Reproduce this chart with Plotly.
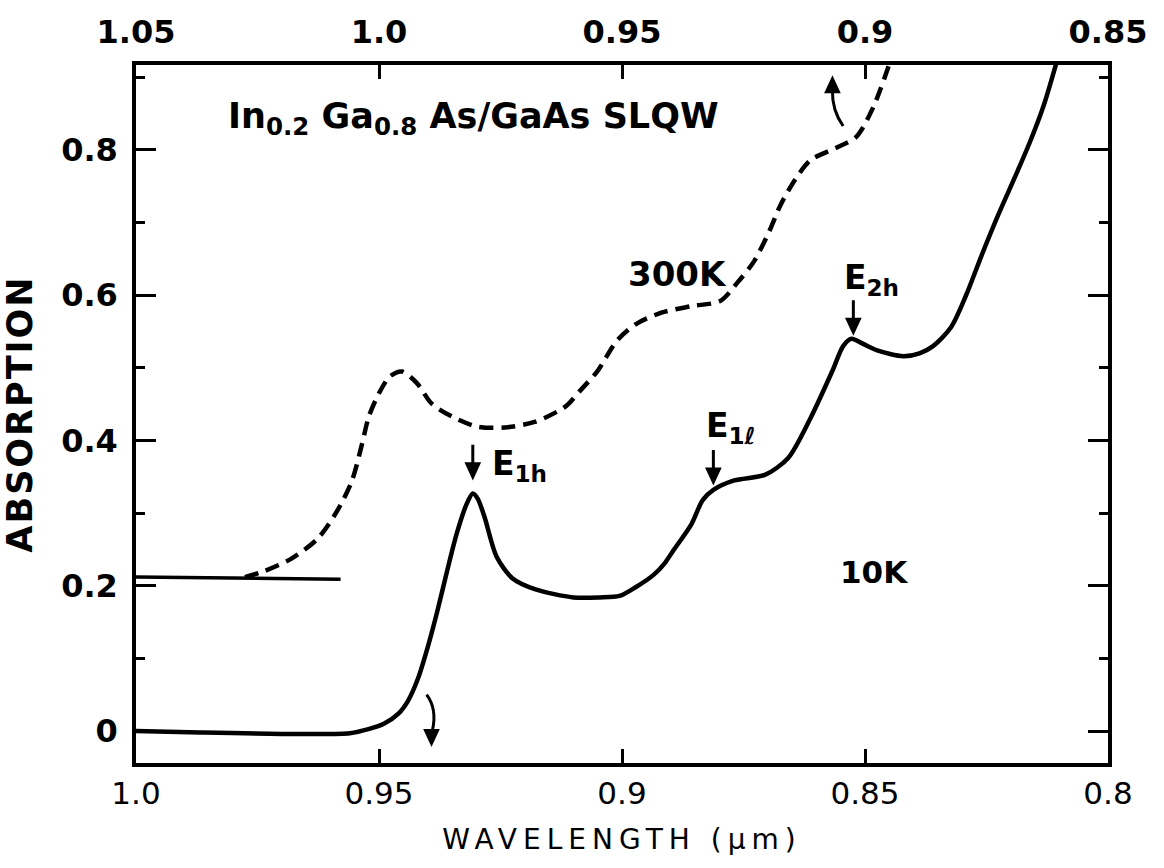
import plotly.graph_objects as go

# ---- 10 K spectrum (bottom wavelength axis, um) ----
wl_10k = [1.000, 0.9868, 0.9663, 0.9560, 0.9520, 0.9490, 0.9460, 0.9440, 0.9420, 0.9400,
          0.9380, 0.9360, 0.9340, 0.9320, 0.9307, 0.9297, 0.9283, 0.9258, 0.9225, 0.9178,
          0.9100, 0.9046, 0.9005, 0.8972, 0.8935, 0.8911, 0.8896, 0.8857, 0.8834, 0.8812,
          0.8769, 0.8705, 0.8658, 0.8612, 0.8567, 0.8545, 0.8528, 0.8504, 0.8475, 0.8421,
          0.8388, 0.8360, 0.8323, 0.8292, 0.8260, 0.8225, 0.8190, 0.8160, 0.8132, 0.8107]
abs_10k = [0.000, -0.002, -0.004, -0.003, 0.003, 0.010, 0.024, 0.042, 0.072, 0.115,
           0.165, 0.220, 0.272, 0.312, 0.327, 0.320, 0.295, 0.240, 0.210, 0.195,
           0.184, 0.184, 0.186, 0.198, 0.215, 0.232, 0.247, 0.285, 0.318, 0.332,
           0.345, 0.353, 0.376, 0.431, 0.496, 0.530, 0.540, 0.533, 0.524, 0.516,
           0.520, 0.530, 0.556, 0.600, 0.655, 0.712, 0.765, 0.812, 0.862, 0.918]

# ---- 300 K spectrum (top wavelength axis, um) ----
wl_300k = [1.0276, 1.0237, 1.0181, 1.0126, 1.0087, 1.0056, 1.0035, 1.0021, 1.0000, 0.9978,
           0.9953, 0.9922, 0.9892, 0.9850, 0.9797, 0.9741, 0.9678, 0.9616, 0.9587, 0.9550,
           0.9511, 0.9472, 0.9419, 0.9357, 0.9298, 0.9263, 0.9228, 0.9197, 0.9174, 0.9143,
           0.9112, 0.9059, 0.9018, 0.8983, 0.8950]
abs_300k = [0.212, 0.220, 0.237, 0.265, 0.302, 0.344, 0.395, 0.433, 0.465, 0.488,
            0.495, 0.479, 0.451, 0.433, 0.419, 0.418, 0.426, 0.447, 0.468, 0.496,
            0.537, 0.560, 0.576, 0.585, 0.592, 0.617, 0.647, 0.688, 0.724, 0.760,
            0.786, 0.803, 0.818, 0.859, 0.918]

# solid baseline segment of the 300 K trace
wl_300k_base = [1.0500, 1.0079]
abs_300k_base = [0.212, 0.209]

# ---- axis ticks ----
bottom_ticks = [1.0, 0.95, 0.9, 0.85, 0.8]
bottom_text = ["1.0", "0.95", "0.9", "0.85", "0.8"]
top_ticks = [1.05, 1.0, 0.95, 0.9, 0.85]
top_text = ["1.05", "1.0", "0.95", "0.9", "0.85"]
y_ticks = [0, 0.2, 0.4, 0.6, 0.8]
y_text = ["0", "0.2", "0.4", "0.6", "0.8"]

FONT = "DejaVu Sans"
BLACK = "#000000"

fig = go.Figure()
fig.add_trace(go.Scatter(x=wl_10k, y=abs_10k, mode="lines", xaxis="x", yaxis="y",
                         line=dict(color=BLACK, width=4.5, shape="spline", smoothing=0.8),
                         showlegend=False, hoverinfo="skip"))
fig.add_trace(go.Scatter(x=wl_300k, y=abs_300k, mode="lines", xaxis="x2", yaxis="y",
                         line=dict(color=BLACK, width=4.5, dash="14px,8px", shape="spline", smoothing=0.8),
                         showlegend=False, hoverinfo="skip"))
fig.add_trace(go.Scatter(x=wl_300k_base, y=abs_300k_base, mode="lines", xaxis="x2", yaxis="y",
                         line=dict(color=BLACK, width=3.5),
                         showlegend=False, hoverinfo="skip"))

ax_common = dict(showgrid=False, zeroline=False, showline=True, linecolor=BLACK, linewidth=3.5,
                 ticks="inside", tickcolor=BLACK, tickwidth=2.5)

fig.update_layout(
    width=1164, height=868,
    margin=dict(l=136, r=56, t=65, b=105),
    paper_bgcolor="white", plot_bgcolor="white",
    showlegend=False,
    xaxis=dict(range=[1.0, 0.8], tickvals=bottom_ticks, ticktext=bottom_text, ticklen=14,
               tickfont=dict(family=FONT, size=31, color=BLACK), ticklabelstandoff=0,
               title=dict(text="WAVELENGTH (μm)", font=dict(family=FONT, size=28, color=BLACK), standoff=20),
               automargin=False, **ax_common),
    xaxis2=dict(range=[1.05, 0.85], overlaying="x", side="top", anchor="y",
                tickvals=top_ticks, ticktext=top_text, ticklen=14,
                tickfont=dict(family=FONT, size=32, color=BLACK, weight="bold"), ticklabelstandoff=5,
                automargin=False, **ax_common),
    yaxis=dict(range=[-0.044, 0.917], tickvals=y_ticks, ticktext=y_text, ticklen=20,
               mirror="ticks",
               minor=dict(dtick=0.1, tick0=0, ticklen=9, tickwidth=2.5, ticks="inside", tickcolor=BLACK),
               tickfont=dict(family=FONT, size=32, color=BLACK, weight="bold"), ticklabelstandoff=8,
               title=dict(text="ABSORPTION", font=dict(family=FONT, size=35, color=BLACK, weight="bold"), standoff=22),
               automargin=False, **ax_common),
)

txt = dict(family=FONT, color=BLACK, weight="bold")
annotations = [
    dict(text="In<sub>0.2</sub> Ga<sub>0.8</sub> As/GaAs SLQW", xref="x2", yref="y", x=1.0315, y=0.843,
         xanchor="left", yanchor="middle", showarrow=False, font=dict(size=35, **txt)),
    dict(text="300K", xref="x2", yref="y", x=0.9386, y=0.629, xanchor="center", yanchor="middle",
         showarrow=False, font=dict(size=34, **txt)),
    dict(text="10K", xref="x", yref="y", x=0.8481, y=0.219, xanchor="center", yanchor="middle",
         showarrow=False, font=dict(size=31, **txt)),
    dict(text="E<sub>2h</sub>", xref="x", yref="y", x=0.8487, y=0.622, xanchor="center", yanchor="middle",
         showarrow=False, font=dict(size=33, **txt)),
    dict(text="E<sub>1ℓ</sub>", xref="x", yref="y", x=0.8775, y=0.418, xanchor="center", yanchor="middle",
         showarrow=False, font=dict(size=33, **txt)),
    dict(text="E<sub>1h</sub>", xref="x", yref="y", x=0.9272, y=0.365, xanchor="left", yanchor="middle",
         showarrow=False, font=dict(size=33, **txt)),
]
fig.update_layout(annotations=annotations)

# arrows drawn as shapes: a stem + filled head, sized in pixels around an anchor point
down_arrow = "M 0,32 L 0,10 M -6,13 L 6,13 L 0,0 Z"
head_down = "M 0,0 L -6,13 L 6,13 Z"
head_up = "M 0,0 L -6,-13 L 6,-13 Z"


def pix_shape(xref, x, y, path):
    return dict(type="path", xref=xref, yref="y", xsizemode="pixel", ysizemode="pixel",
                xanchor=x, yanchor=y, path=path, fillcolor=BLACK,
                line=dict(color=BLACK, width=3))


shapes = [
    pix_shape("x", 0.8524, 0.549, down_arrow),   # E2h
    pix_shape("x", 0.8812, 0.343, down_arrow),   # E1l
    pix_shape("x", 0.9307, 0.350, down_arrow),   # E1h
    # curved arrow: 300K curve belongs to the top axis
    dict(type="path", xref="x2", yref="y", path="M 0.9045,0.833 Q 0.9068,0.855 0.9067,0.882",
         line=dict(color=BLACK, width=3)),
    pix_shape("x2", 0.9067, 0.898, head_up),
    # curved arrow: 10K curve belongs to the bottom axis
    dict(type="path", xref="x", yref="y", path="M 0.9402,0.050 Q 0.9380,0.030 0.9390,0.001",
         line=dict(color=BLACK, width=3)),
    pix_shape("x", 0.9392, -0.017, head_down),
]
fig.update_layout(shapes=shapes)

post = ("var gd=document.getElementById('{plot_id}');"
        "gd.querySelectorAll('.xtitle').forEach(function(e){e.style.letterSpacing='6px';});"
        "gd.querySelectorAll('.ytitle').forEach(function(e){e.style.letterSpacing='2px';});")

fig.write_html("out.html", post_script=post)
